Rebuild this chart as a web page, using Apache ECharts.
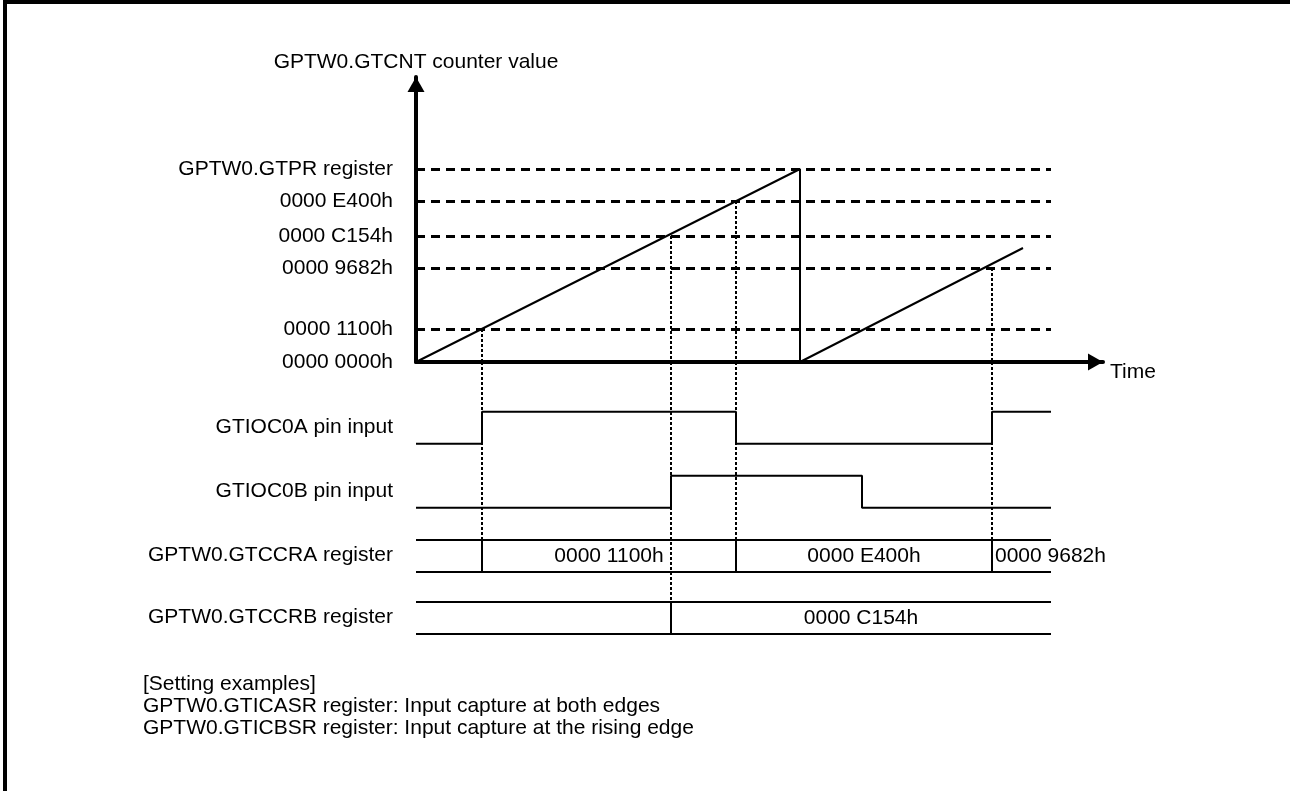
<!DOCTYPE html>
<html><head><meta charset="utf-8">
<script src="https://cdn.jsdelivr.net/npm/echarts@6/dist/echarts.min.js"></script>
<style>html,body{margin:0;padding:0;background:#fff}#c{width:1290px;height:791px}</style>
</head><body><div id="c"></div>
<script>
// ---------------- data ----------------
const counterAxisTitle = 'GPTW0.GTCNT counter value';
const timeAxisTitle = 'Time';
const levelLabels = ['0000 0000h', '0000 1100h', '0000 9682h', '0000 C154h', '0000 E400h', 'GPTW0.GTPR register'];
const levelValues = [0, 33, 94, 126, 161, 193];
const counterTime = [0, 384, 384, 607];
const counterValue = [0, 193, 0, 114];
const captureTime = [66, 255, 320, 576];
const captureLevel = [33, 126, 161, 94];
const captureIntoB = [false, true, false, false];
const rowNames = ['GTIOC0A pin input', 'GTIOC0B pin input', 'GPTW0.GTCCRA register', 'GPTW0.GTCCRB register'];
const pinATime = [0, 66, 320, 576, 635];
const pinAState = [0, 1, 0, 1];
const pinBTime = [0, 255, 446, 635];
const pinBState = [0, 1, 0];
const ccraTime = [0, 66, 320, 576, 635];
const ccraText = ['', '0000 1100h', '0000 E400h', '0000 9682h'];
const ccrbTime = [0, 255, 635];
const ccrbText = ['', '0000 C154h'];
const noteLines = ['[Setting examples]', 'GPTW0.GTICASR register: Input capture at both edges', 'GPTW0.GTICBSR register: Input capture at the rising edge'];

// ---------------- layout ----------------
const FONT = '"Liberation Sans", Arial, sans-serif';
const FS = 21;
const X_MAX = 687;
const TRACE_END = 635;
const TOP_MAX = 285;
const BOT_MAX = 277 / 32;
const ROW_BASE = [6.1, 4.1, 2.1, 0.15];
const ROW_H = 1;
const ROW_LABEL = ROW_BASE.map(b => b + 0.52);
const black = '#000';

function stepPoints(times, states, base) {
  const pts = [];
  for (let i = 0; i < states.length; i++) {
    const y = base + states[i] * ROW_H;
    pts.push([times[i], y], [times[i + 1], y]);
  }
  return pts;
}
function busLines(times, base) {
  const top = base + ROW_H;
  const out = [
    [{ coord: [times[0], base] }, { coord: [times[times.length - 1], base] }],
    [{ coord: [times[0], top] }, { coord: [times[times.length - 1], top] }]
  ];
  for (let i = 1; i < times.length - 1; i++) out.push([{ coord: [times[i], base] }, { coord: [times[i], top] }]);
  return out;
}
function busLabels(times, texts, base) {
  const out = [];
  for (let i = 0; i < texts.length; i++) {
    if (!texts[i]) continue;
    const w = times[i + 1] - times[i];
    const wide = w > 200;
    out.push({
      value: [wide ? (times[i] + times[i + 1]) / 2 : times[i] + 3, base + ROW_H / 2],
      label: { show: true, formatter: texts[i], position: 'inside', align: wide ? 'center' : 'left',
               verticalAlign: 'middle', fontSize: FS, fontFamily: FONT, color: black, opacity: 1 }
    });
  }
  return out;
}

const dotted = { color: black, width: 2, type: [3, 2] };
const solid2 = { color: black, width: 2, type: 'solid' };
const arrowAxisLine = { show: true, onZero: false, lineStyle: { color: black, width: 4 },
                        symbol: ['none', 'triangle'], symbolSize: [17, 15], symbolOffset: [0, -7.5] };

const option = {
  animation: false,
  backgroundColor: '#fff',
  grid: [
    { left: 416, top: 77, width: X_MAX, height: TOP_MAX, containLabel: false },
    { left: 416, top: 362, width: X_MAX, height: 277, containLabel: false }
  ],
  xAxis: [
    { type: 'value', gridIndex: 0, min: 0, max: X_MAX, axisLine: arrowAxisLine,
      axisTick: { show: false }, axisLabel: { show: false }, splitLine: { show: false },
      name: timeAxisTitle, nameLocation: 'end', nameGap: 7,
      nameTextStyle: { fontSize: FS, fontFamily: FONT, color: black, verticalAlign: 'top' } },
    { type: 'value', gridIndex: 1, min: 0, max: X_MAX, show: false }
  ],
  yAxis: [
    { type: 'value', gridIndex: 0, min: 0, max: TOP_MAX, axisLine: arrowAxisLine,
      axisTick: { show: false }, splitLine: { show: false },
      axisLabel: { show: true, customValues: levelValues, margin: 23, fontSize: FS, fontFamily: FONT, color: black,
                   formatter: v => levelLabels[levelValues.indexOf(v)] },
      name: counterAxisTitle, nameLocation: 'end', nameGap: 4,
      nameTextStyle: { fontSize: FS, fontFamily: FONT, color: black } },
    { type: 'value', gridIndex: 1, min: 0, max: BOT_MAX,
      axisLine: { show: false }, axisTick: { show: false }, splitLine: { show: false },
      axisLabel: { show: true, customValues: ROW_LABEL, margin: 23, fontSize: FS, fontFamily: FONT, color: black,
                   formatter: v => rowNames[ROW_LABEL.indexOf(v)] } }
  ],
  series: [
    { type: 'line', xAxisIndex: 0, yAxisIndex: 0, symbol: 'none', z: 5,
      data: counterTime.map((t, i) => [t, counterValue[i]]),
      lineStyle: { color: black, width: 2 },
      markLine: { silent: true, symbol: ['none', 'none'], label: { show: false },
                  lineStyle: { color: black, width: 3, type: [9, 6] },
                  data: levelValues.filter(v => v > 0).map(v => [{ coord: [0, v] }, { coord: [TRACE_END, v] }]) } },
    { type: 'line', xAxisIndex: 0, yAxisIndex: 0, symbol: 'none', data: [], z: 4,
      markLine: { silent: true, symbol: ['none', 'none'], label: { show: false }, lineStyle: dotted,
                  data: captureTime.map((t, i) => [{ coord: [t, captureLevel[i]] }, { coord: [t, 0] }]) } },
    { type: 'line', xAxisIndex: 1, yAxisIndex: 1, symbol: 'none', z: 4,
      data: stepPoints(pinATime, pinAState, ROW_BASE[0]), lineStyle: solid2,
      markLine: { silent: true, symbol: ['none', 'none'], label: { show: false }, lineStyle: dotted,
                  data: captureTime.map((t, i) => [{ coord: [t, BOT_MAX] },
                        { coord: [t, (captureIntoB[i] ? ROW_BASE[3] : ROW_BASE[2]) + ROW_H] }]) } },
    { type: 'line', xAxisIndex: 1, yAxisIndex: 1, symbol: 'none', z: 4,
      data: stepPoints(pinBTime, pinBState, ROW_BASE[1]), lineStyle: solid2 },
    { type: 'line', xAxisIndex: 1, yAxisIndex: 1, symbol: 'none', data: [], z: 4,
      markLine: { silent: true, symbol: ['none', 'none'], label: { show: false }, lineStyle: solid2,
                  data: busLines(ccraTime, ROW_BASE[2]).concat(busLines(ccrbTime, ROW_BASE[3])) } },
    { type: 'scatter', xAxisIndex: 1, yAxisIndex: 1, symbolSize: 0, silent: true, z: 6,
      itemStyle: { opacity: 1 },
      data: busLabels(ccraTime, ccraText, ROW_BASE[2]).concat(busLabels(ccrbTime, ccrbText, ROW_BASE[3])) }
  ],
  graphic: [
    { type: 'polyline', silent: true, shape: { points: [[5, 791], [5, 2], [1290, 2]] },
      style: { stroke: black, lineWidth: 4, fill: null } },
    { type: 'text', left: 143, top: 673, silent: true,
      style: { text: noteLines.join('\n'), font: FS + 'px ' + FONT, lineHeight: 22, fill: black } }
  ]
};
const chart = echarts.init(document.getElementById('c'), null, { renderer: 'canvas' });
chart.setOption(option);
</script></body></html>
